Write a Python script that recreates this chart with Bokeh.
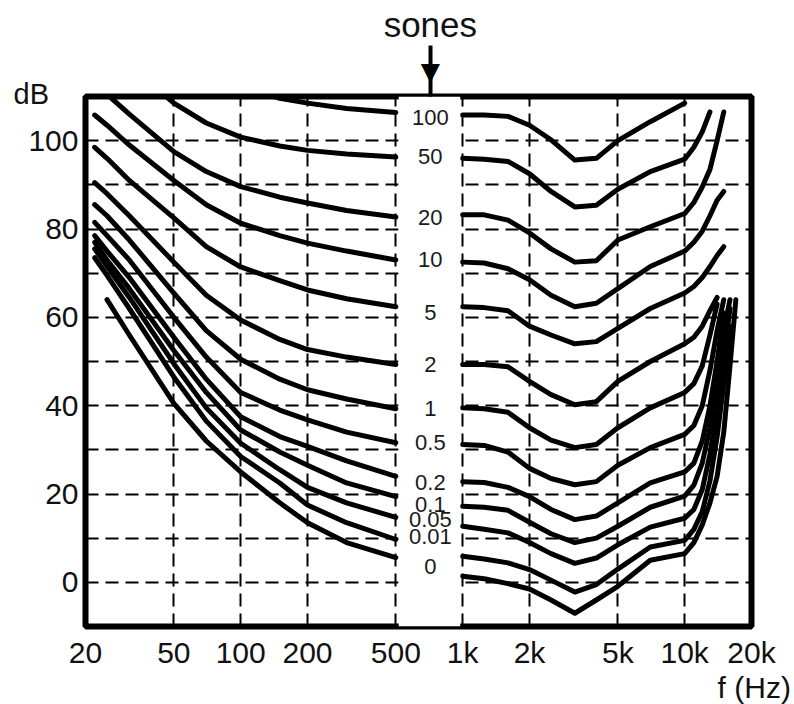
from bokeh.plotting import figure
from bokeh.models import Range1d, FixedTicker, Label, LogAxis
from bokeh.core.properties import value
from bokeh.embed import file_html
from bokeh.resources import INLINE

nan = float("nan")

# ---------------- data ----------------
sone_labels = ["100", "50", "20", "10", "5", "2", "1", "0.5", "0.2", "0.1", "0.05", "0.01", "0"]
label_db = [105.3, 96.5, 82.7, 73.0, 61.2, 49.3, 39.3, 31.6, 22.6, 17.6, 14.2, 10.4, 3.6]
label_f = 715   # frequency at which the sone labels (and the arrow) sit

# left branch (20 Hz .. 500 Hz)
f_left = [22, 25, 31.5, 50, 70, 100, 150, 200, 300, 500]
left_100 = [nan, nan, nan, nan, 120, 112.5, 109.6, 108.5, 107.3, 106.4]
left_50 = [124, 121, 117, 108.5, 104, 100.8, 98.8, 97.8, 97, 96.3]
left_20 = [113, 110.5, 106, 97.5, 93, 89.6, 87.2, 85.9, 84.2, 82.7]
left_10 = [105.8, 103.5, 99, 91, 85.5, 81.3, 78.5, 76.8, 75, 73]
left_5 = [98.5, 96, 91, 82.5, 76, 71.4, 68.3, 66.2, 64.2, 62.4]
left_2 = [90.5, 88, 83, 72.5, 65, 59.4, 55, 52.7, 51, 49.3]
left_1 = [85.5, 83, 77.5, 65.5, 57, 50.5, 46, 43.6, 41.5, 39.3]
left_05 = [81.5, 78.5, 73, 60, 51, 43, 39, 36.8, 34, 31.6]
left_02 = [78.5, 75, 69, 55.5, 46, 37.5, 33, 30.8, 27.5, 24.0]
left_01 = [77, 73, 66.5, 52.5, 43, 34.5, 29.5, 26.5, 22.5, 19.4]
left_005 = [75.5, 71.5, 64.5, 49.5, 39.5, 31.5, 25.5, 21.5, 18, 14.7]
left_001 = [73.5, 69.5, 62, 46.5, 36.5, 28.5, 22.5, 17.5, 13.5, 9.7]
left_0 = [nan, 64, 56, 40.5, 32, 25, 18, 13.5, 9, 5.6]

# right branch (1 kHz .. ~17 kHz)
f_right = [1000, 1250, 1600, 2000, 2500, 3200, 4000, 5000, 7000, 10000,
           11000, 12000, 13000, 14000, 15000, 16000, 17000]
right_100 = [105.8, 105.8, 105.5, 103.5, 100.2, 95.6, 96, 100, 104.3, 108.5, nan, nan, nan, nan, nan, nan, nan]
right_50 = [96, 95.8, 95.3, 92.5, 88.5, 85, 85.4, 89, 93, 95.8, 98.5, 102, 106.5, nan, nan, nan, nan]
right_20 = [83.2, 83.2, 82, 79.1, 75.5, 72.5, 72.8, 77.5, 80.5, 83.5, 86, 89.5, 93.5, 100, 106.5, nan, nan]
right_10 = [72.5, 72.3, 71, 68.5, 65, 62.4, 63.2, 66.5, 71.5, 75, 77, 79.5, 83, 86.5, 88.5, nan, nan]
right_5 = [62.4, 62.2, 61.5, 58, 56, 54, 54.5, 57.5, 62, 65.5, 67, 69, 71.5, 74, 76, nan, nan]
right_2 = [49.3, 49.3, 48.8, 45.5, 42.5, 40.2, 40.9, 45.5, 50, 54, 55.5, 58, 61.5, 64.5, nan, nan, nan]
right_1 = [39.5, 39.3, 38.5, 35, 32.2, 30.5, 31.2, 35, 39.5, 43, 45, 49, 56, 63, nan, nan, nan]
right_05 = [31.2, 31, 29.5, 25.8, 23.5, 22.1, 22.8, 26.5, 30.5, 33.5, 35.5, 40, 48, 57, 64, nan, nan]
right_02 = [22.8, 22.6, 21.5, 19.4, 16.5, 14.2, 15, 18, 22.5, 25, 27, 32, 40, 50, 61, nan, nan]
right_01 = [17.2, 17, 16.3, 13.6, 11, 9, 10, 12.7, 17, 19.5, 22, 27, 35, 45, 57, 64, nan]
right_005 = [12.7, 12, 11.2, 9, 6.5, 4.3, 5.5, 8.5, 12.5, 14.5, 16.5, 21, 29, 39, 51, 62, nan]
right_001 = [5.9, 5.3, 4.4, 2.9, 0.5, -2.2, -0.5, 3, 8, 9.5, 12, 16, 23, 33, 45, 58, nan]
right_0 = [1.4, 0.8, -0.3, -1.5, -4, -7, -4, -0.9, 5, 6.5, 9, 13, 18, 24, 34, 49, 64]

x_tick_vals = [20, 50, 100, 200, 500, 1000, 2000, 5000, 10000, 20000]
x_tick_labels = ["20", "50", "100", "200", "500", "1k", "2k", "5k", "10k", "20k"]
x_grid_vals = [50, 100, 200, 500, 1000, 2000, 5000, 10000]
y_tick_vals = [0, 20, 40, 60, 80, 100]
y_grid_vals = [0, 10, 20, 30, 40, 50, 60, 70, 80, 90, 100]

left_curves = [left_100, left_50, left_20, left_10, left_5, left_2, left_1,
               left_05, left_02, left_01, left_005, left_001, left_0]
right_curves = [right_100, right_50, right_20, right_10, right_5, right_2, right_1,
                right_05, right_02, right_01, right_005, right_001, right_0]

# ---------------- figure ----------------
FONT = "Liberation Sans"
p = figure(width=794, height=704, x_axis_type="log",
           x_range=Range1d(20, 20000), y_range=Range1d(-10, 110),
           toolbar_location=None, output_backend="svg", title=None,
           min_border_left=85, min_border_right=43, min_border_top=96, min_border_bottom=77)
p.background_fill_color = "white"
p.border_fill_color = "white"
p.outline_line_color = "black"
p.outline_line_width = 6

for ax in (p.xaxis[0], p.yaxis[0]):
    ax.axis_line_color = None
    ax.major_tick_line_color = None
    ax.minor_tick_line_color = None
    ax.major_label_text_font = FONT
    ax.major_label_text_font_size = "30px"
    ax.major_label_text_color = "#111111"

p.xaxis[0].ticker = FixedTicker(ticks=x_tick_vals)
p.xaxis[0].major_label_overrides = {v: s for v, s in zip(x_tick_vals, x_tick_labels)}
p.xaxis[0].major_label_standoff = 3
p.yaxis[0].ticker = FixedTicker(ticks=y_tick_vals)
p.yaxis[0].major_label_overrides = {v: str(v) for v in y_tick_vals}
p.yaxis[0].major_label_standoff = 1

p.xgrid[0].ticker = FixedTicker(ticks=x_grid_vals)
p.ygrid[0].ticker = FixedTicker(ticks=y_grid_vals)
for g in (p.xgrid[0], p.ygrid[0]):
    g.grid_line_color = "black"
    g.grid_line_width = 2
    g.grid_line_dash = "13 7"

# white gap between 500 Hz and 1 kHz where the labels sit
p.quad(left=515, right=975, bottom=-10, top=110, fill_color="white", line_color=None)

for lc, rc in zip(left_curves, right_curves):
    p.line(f_left, lc, line_color="black", line_width=5, line_join="round", line_cap="round")
    p.line(f_right, rc, line_color="black", line_width=5, line_join="round", line_cap="round")

p.text(x=[label_f] * len(sone_labels), y=label_db, text=sone_labels,
       text_font=value(FONT), text_font_size="22px", text_color="#1a1a1a",
       text_align="center", text_baseline="middle")

# "sones" with the arrow shaft: a one-tick axis above the frame
top_axis = LogAxis(ticker=FixedTicker(ticks=[label_f]),
                   major_label_overrides={label_f: "sones"},
                   major_label_text_font=FONT, major_label_text_font_size="35px",
                   major_label_text_color="#111111", major_label_standoff=2,
                   axis_line_color=None, minor_tick_line_color=None,
                   major_tick_in=0, major_tick_out=51,
                   major_tick_line_width=4, major_tick_line_color="black")
p.add_layout(top_axis, "above")

# arrow head
p.add_layout(Label(x=label_f, y=115.6, text="\u25BC", text_font="DejaVu Sans",
                   text_font_size="25px", text_color="black",
                   text_align="center", text_baseline="middle"), "left")

# texts outside the frame live in side panels so they are not clipped
p.add_layout(Label(x=11.4, y=110.5, text="dB", text_font=FONT, text_font_size="29px",
                   text_color="#111111", text_align="center", text_baseline="middle"), "right")
p.add_layout(Label(x=30100, y=-23.7, text="f (Hz)", text_font=FONT, text_font_size="30px",
                   text_color="#111111", text_align="right", text_baseline="middle"), "below")

open("out.html", "w").write(file_html(p, INLINE))
